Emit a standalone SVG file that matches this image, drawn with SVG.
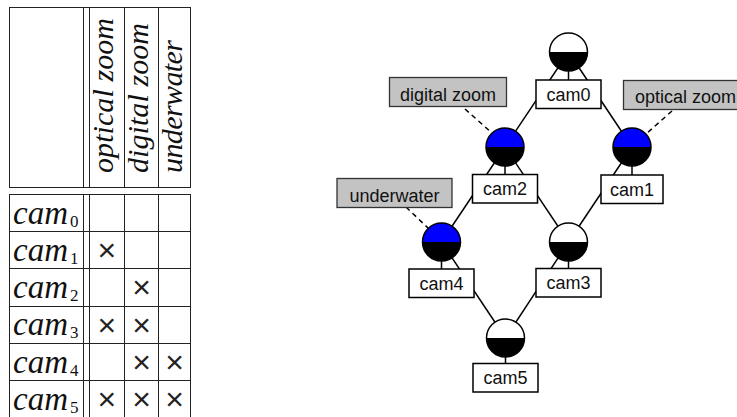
<svg xmlns="http://www.w3.org/2000/svg" xmlns:xlink="http://www.w3.org/1999/xlink" width="737" height="417" viewBox="0 0 737 417">
  <style>
    .grid line { stroke: #222; stroke-width: 1; }
    .head { font-family: "Liberation Serif", "Times New Roman", serif; font-style: italic; font-size: 30px; fill: #111; }
    .rowlbl { font-family: "Liberation Serif", "Times New Roman", serif; font-style: italic; font-size: 33px; fill: #111; }
    .sub { font-style: normal; font-size: 17px; }
    .mark { font-family: "Liberation Sans", Arial, sans-serif; font-size: 32px; fill: #222; text-anchor: middle; }
    .edge { stroke: #000; stroke-width: 1.5; fill: none; }
    .tag line { stroke: #000; stroke-width: 1.5; stroke-dasharray: 5 4; }
    .tag rect { fill: #c3c3c3; stroke: #333; stroke-width: 1.3; }
    .lbl { font-family: "Liberation Sans", Arial, sans-serif; font-size: 18px; fill: #111; text-anchor: middle; }
    .ring { fill: none; stroke: #000; stroke-width: 1.5; }
    .box { fill: #fff; stroke: #000; stroke-width: 1.5; }
    .stem { stroke: #000; stroke-width: 1.5; }
    .plain { fill: #fff; }
    .blue { fill: #0000ff; }
    .dark { fill: #000; }
  </style>
  <defs>
    <path id="upper" d="M-19,0 A19,19 0 0 1 19,0 Z"/>
    <path id="lower" d="M-19,0 A19,19 0 0 0 19,0 Z"/>
  </defs>
  <rect width="737" height="417" fill="#fff"/>

  <!-- feature table -->
  <g id="table">
    <g class="grid">
      <!-- header block -->
      <line x1="9" y1="7.5" x2="191" y2="7.5"/>
      <line x1="9" y1="187.5" x2="191" y2="187.5"/>
      <line x1="9.5" y1="7" x2="9.5" y2="188"/>
      <line x1="83.5" y1="7" x2="83.5" y2="188"/>
      <line x1="89.5" y1="7" x2="89.5" y2="188"/>
      <line x1="124.5" y1="7" x2="124.5" y2="188"/>
      <line x1="158.5" y1="7" x2="158.5" y2="188"/>
      <line x1="190.5" y1="7" x2="190.5" y2="188"/>
      <!-- body block -->
      <line x1="9" y1="194.5" x2="191" y2="194.5"/>
      <line x1="9" y1="231.5" x2="191" y2="231.5"/>
      <line x1="9" y1="268.5" x2="191" y2="268.5"/>
      <line x1="9" y1="306.5" x2="191" y2="306.5"/>
      <line x1="9" y1="343.5" x2="191" y2="343.5"/>
      <line x1="9" y1="380.5" x2="191" y2="380.5"/>
      <line x1="9.5" y1="194" x2="9.5" y2="417"/>
      <line x1="83.5" y1="194" x2="83.5" y2="417"/>
      <line x1="89.5" y1="194" x2="89.5" y2="417"/>
      <line x1="124.5" y1="194" x2="124.5" y2="417"/>
      <line x1="158.5" y1="194" x2="158.5" y2="417"/>
      <line x1="190.5" y1="194" x2="190.5" y2="417"/>
    </g>
    <text class="head" transform="translate(113,173) rotate(-90)" textLength="155" lengthAdjust="spacing">optical zoom</text>
    <text class="head" transform="translate(147.5,173) rotate(-90)" textLength="150" lengthAdjust="spacing">digital zoom</text>
    <text class="head" transform="translate(182,173) rotate(-90)" textLength="133" lengthAdjust="spacing">underwater</text>

    <text class="rowlbl" x="13" y="223.5">cam<tspan class="sub" dx="2" dy="3">0</tspan></text>
    <text class="rowlbl" x="13" y="260.8">cam<tspan class="sub" dx="2" dy="3">1</tspan></text>
    <text class="rowlbl" x="13" y="298.1">cam<tspan class="sub" dx="2" dy="3">2</tspan></text>
    <text class="rowlbl" x="13" y="335.4">cam<tspan class="sub" dx="2" dy="3">3</tspan></text>
    <text class="rowlbl" x="13" y="372.7">cam<tspan class="sub" dx="2" dy="3">4</tspan></text>
    <text class="rowlbl" x="13" y="410">cam<tspan class="sub" dx="2" dy="3">5</tspan></text>

    <text class="mark" x="106.8" y="261">×</text>
    <text class="mark" x="141.5" y="298.3">×</text>
    <text class="mark" x="106.8" y="335.6">×</text>
    <text class="mark" x="141.5" y="335.6">×</text>
    <text class="mark" x="141.5" y="372.9">×</text>
    <text class="mark" x="174.5" y="372.9">×</text>
    <text class="mark" x="106.8" y="410">×</text>
    <text class="mark" x="141.5" y="410">×</text>
    <text class="mark" x="174.5" y="410">×</text>
  </g>

  <!-- lattice edges between node centres -->
  <g id="connectors">
    <line class="edge" x1="568.5" y1="52" x2="505" y2="147"/>
    <line class="edge" x1="568.5" y1="52" x2="632" y2="147"/>
    <line class="edge" x1="505" y1="147" x2="441.5" y2="242"/>
    <line class="edge" x1="505" y1="147" x2="568.5" y2="242"/>
    <line class="edge" x1="632" y1="147" x2="568.5" y2="242"/>
    <line class="edge" x1="441.5" y1="242" x2="505.5" y2="338"/>
    <line class="edge" x1="568.5" y1="242" x2="505.5" y2="338"/>
  </g>

  <!-- feature tags -->
  <g id="tag-digital" class="tag">
    <line x1="465" y1="109" x2="492" y2="133"/>
    <rect x="389.5" y="77.5" width="117" height="29"/>
    <text class="lbl" x="448" y="100.5">digital zoom</text>
  </g>
  <g id="tag-optical" class="tag">
    <line x1="672" y1="111" x2="646" y2="134"/>
    <rect x="623.5" y="80.5" width="124" height="29"/>
    <text class="lbl" x="685.5" y="102.5">optical zoom</text>
  </g>
  <g id="tag-underwater" class="tag">
    <line x1="406" y1="207" x2="428" y2="228"/>
    <rect x="337" y="178.5" width="115" height="29"/>
    <text class="lbl" x="394.5" y="201.5">underwater</text>
  </g>

  <!-- camera nodes -->
  <g id="cam0" transform="translate(568.5,52)">
    <use xlink:href="#upper" class="plain"/><use xlink:href="#lower" class="dark"/>
    <circle class="ring" r="19"/>
    <line class="stem" x1="0" y1="19" x2="0" y2="28"/>
    <rect class="box" x="-32.5" y="28" width="65" height="28.5"/>
    <text class="lbl" x="0" y="48.5">cam0</text>
  </g>
  <g id="cam1" transform="translate(632,147)">
    <use xlink:href="#upper" class="blue"/><use xlink:href="#lower" class="dark"/>
    <circle class="ring" r="19"/>
    <line class="stem" x1="0" y1="19" x2="0" y2="28"/>
    <rect class="box" x="-31" y="28" width="62" height="28.5"/>
    <text class="lbl" x="0" y="48.5">cam1</text>
  </g>
  <g id="cam2" transform="translate(505,147)">
    <use xlink:href="#upper" class="blue"/><use xlink:href="#lower" class="dark"/>
    <circle class="ring" r="19"/>
    <line class="stem" x1="0" y1="19" x2="0" y2="27.5"/>
    <rect class="box" x="-32.5" y="27.5" width="65" height="28.5"/>
    <text class="lbl" x="0" y="48">cam2</text>
  </g>
  <g id="cam3" transform="translate(568.5,242)">
    <use xlink:href="#upper" class="plain"/><use xlink:href="#lower" class="dark"/>
    <circle class="ring" r="19"/>
    <line class="stem" x1="0" y1="19" x2="0" y2="26.5"/>
    <rect class="box" x="-32.5" y="26.5" width="65" height="28.5"/>
    <text class="lbl" x="0" y="47">cam3</text>
  </g>
  <g id="cam4" transform="translate(441.5,242)">
    <use xlink:href="#upper" class="blue"/><use xlink:href="#lower" class="dark"/>
    <circle class="ring" r="19"/>
    <line class="stem" x1="0" y1="19" x2="0" y2="27"/>
    <rect class="box" x="-32.5" y="27" width="65" height="28.5"/>
    <text class="lbl" x="0" y="47.5">cam4</text>
  </g>
  <g id="cam5" transform="translate(505.5,338)">
    <use xlink:href="#upper" class="plain"/><use xlink:href="#lower" class="dark"/>
    <circle class="ring" r="19"/>
    <line class="stem" x1="0" y1="19" x2="0" y2="25.5"/>
    <rect class="box" x="-32.5" y="25.5" width="65" height="28.5"/>
    <text class="lbl" x="0" y="46">cam5</text>
  </g>
</svg>
